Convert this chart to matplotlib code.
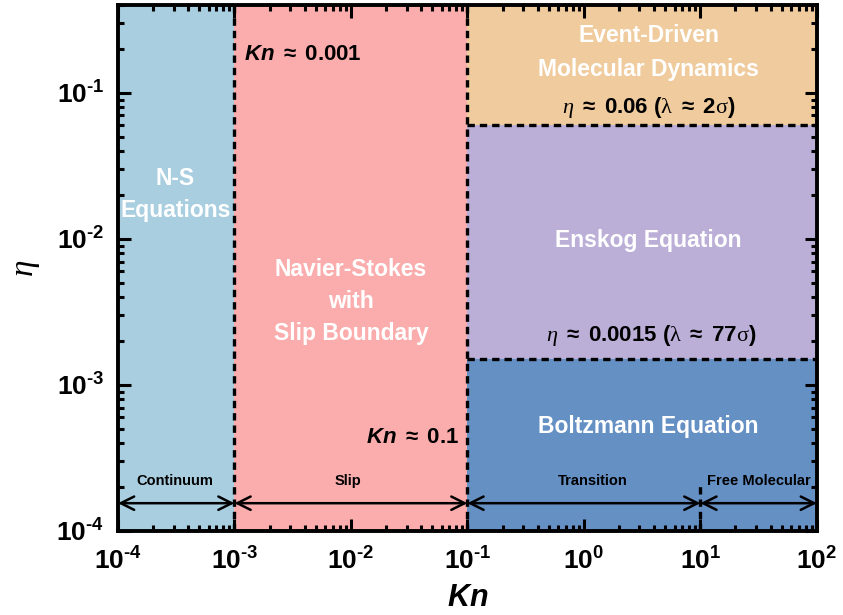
import matplotlib
matplotlib.use("Agg")
import matplotlib.pyplot as plt
from matplotlib.ticker import LogLocator, NullFormatter, FuncFormatter
import numpy as np

plt.rcParams['font.family'] = ['Liberation Sans', 'DejaVu Sans']
plt.rcParams['mathtext.fontset'] = 'custom'
plt.rcParams['mathtext.rm'] = 'Liberation Sans:bold'
plt.rcParams['mathtext.it'] = 'Liberation Serif:italic'
plt.rcParams['mathtext.bf'] = 'Liberation Sans:bold'
plt.rcParams['mathtext.sf'] = 'Liberation Serif'
plt.rcParams['mathtext.bfit'] = 'Liberation Sans:bold:italic'

# regime boundaries
kn_edges = [1e-4, 1e-3, 1e-1, 1e1, 1e2]
regime_names = ['Continuum', 'Slip', 'Transition', 'Free Molecular']
regime_label_x = [3.1e-4, 9.5e-3, 1.2, 3.2e1]
eta_edges = [1e-4, 0.0015, 0.06, 0.4]

xlim = (1e-4, 1e2)
ylim = (1e-4, 0.4)

c_cont = '#a8cee0'
c_slip = '#fbadad'
c_edmd = '#efcb9e'
c_ensk = '#bbafd8'
c_boltz = '#6590c4'

fig = plt.figure(figsize=(8.43, 6.15), dpi=100)
ax = fig.add_axes([0.140, 0.1366, 0.829, 0.8554])
ax.set_xscale('log')
ax.set_yscale('log')
ax.set_xlim(*xlim)
ax.set_ylim(*ylim)

# coloured regions
ax.fill_between([kn_edges[0], kn_edges[1]], ylim[0], ylim[1], color=c_cont, lw=0)
ax.fill_between([kn_edges[1], kn_edges[2]], ylim[0], ylim[1], color=c_slip, lw=0)
ax.fill_between([kn_edges[2], xlim[1]], eta_edges[2], ylim[1], color=c_edmd, lw=0)
ax.fill_between([kn_edges[2], xlim[1]], eta_edges[1], eta_edges[2], color=c_ensk, lw=0)
ax.fill_between([kn_edges[2], xlim[1]], ylim[0], eta_edges[1], color=c_boltz, lw=0)

dash = dict(color='black', lw=2.4, linestyle=(0, (2.2, 1.5)))
ax.plot([kn_edges[1]] * 2, ylim, **dash)
ax.plot([kn_edges[2]] * 2, ylim, **dash)
ax.plot([kn_edges[2], xlim[1]], [eta_edges[2]] * 2, **dash)
ax.plot([kn_edges[2], xlim[1]], [eta_edges[1]] * 2, **dash)
ax.plot([kn_edges[3]] * 2, [ylim[0], 2.1e-4], **dash)

# regime arrows along the bottom
arrow_y = 1.55e-4
label_y = 2.2e-4
for i, name in enumerate(regime_names):
    x0, x1 = kn_edges[i], kn_edges[i + 1]
    ax.annotate('', xy=(x1, arrow_y), xytext=(x0, arrow_y),
                arrowprops=dict(arrowstyle='<->', color='black', lw=1.8,
                                mutation_scale=24, shrinkA=0, shrinkB=0))
    ax.text(regime_label_x[i], label_y, name, ha='center', va='center',
            fontsize=10.5, fontweight='bold', color='black')

white = dict(color='white', fontweight='bold', ha='center', va='center', fontsize=16.5)
ax.text(3.1e-4, 0.02, 'N-S\nEquations', linespacing=1.5, **white)
ax.text(1e-2, 0.0037, 'Navier-Stokes\nwith\nSlip Boundary', linespacing=1.5, **white)
ax.text(3.6, 0.19, 'Event-Driven\nMolecular Dynamics', linespacing=1.6, **white)
ax.text(3.6, 0.0097, 'Enskog Equation', **white)
ax.text(3.6, 5.2e-4, 'Boltzmann Equation', **white)

black = dict(color='black', fontweight='bold', fontsize=16)
ax.text(1.2e-3, 0.182, r'$\mathbfit{Kn}$ $\approx$ 0.001', ha='left', va='center', **black)
ax.text(8.4e-2, 4.4e-4, r'$\mathbfit{Kn}$ $\approx$ 0.1', ha='right', va='center', **black)
ax.text(3.6, 0.080, r'$\mathit{\eta}$ $\approx$ 0.06 ($\mathsf{\lambda}$ $\approx$ 2$\mathsf{\sigma}$)',
        ha='center', va='center', **black)
ax.text(3.8, 0.00217, r'$\mathit{\eta}$ $\approx$ 0.0015 ($\mathsf{\lambda}$ $\approx$ 77$\mathsf{\sigma}$)',
        ha='center', va='center', **black)

ax.set_xlabel(r'$\mathbfit{Kn}$', fontsize=22, labelpad=6)
ax.set_ylabel(r'$\mathit{\eta}$', fontsize=24, labelpad=10)


def pow10(v, pos):
    e = int(round(np.log10(v)))
    return r'$\mathdefault{10^{\text{%d}}}$' % e


ax.xaxis.set_major_locator(LogLocator(base=10, numticks=10))
ax.yaxis.set_major_locator(LogLocator(base=10, numticks=10))
ax.xaxis.set_major_formatter(FuncFormatter(pow10))
ax.yaxis.set_major_formatter(FuncFormatter(pow10))
ax.xaxis.set_minor_locator(LogLocator(base=10, subs=range(2, 10), numticks=20))
ax.yaxis.set_minor_locator(LogLocator(base=10, subs=range(2, 10), numticks=20))
ax.xaxis.set_minor_formatter(NullFormatter())
ax.yaxis.set_minor_formatter(NullFormatter())
ax.tick_params(which='both', direction='in', top=True, right=True, width=2.2)
ax.tick_params(which='major', length=9, labelsize=19)
ax.tick_params(axis='x', which='major', pad=12)
ax.tick_params(axis='y', which='major', pad=10)
ax.tick_params(which='minor', length=4.5)
for lab in ax.get_xticklabels() + ax.get_yticklabels():
    lab.set_fontweight('bold')
for s in ax.spines.values():
    s.set_linewidth(2.8)

fig.savefig('out.png', dpi=100)
